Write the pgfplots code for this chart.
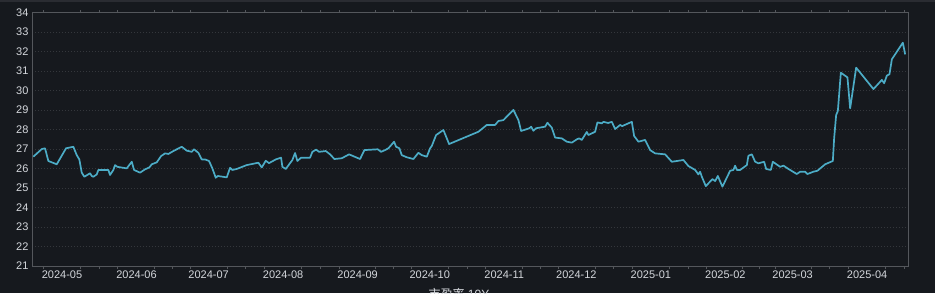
\documentclass[border=0pt]{standalone}
\usepackage{pgfplots}
\pgfplotsset{compat=1.18}
\usepackage{fontspec}
\setmainfont{Liberation Sans}
\newfontfamily\cjk{Noto Sans CJK SC}
\definecolor{bg}{RGB}{22,25,30}
\definecolor{topstrip}{RGB}{42,44,50}
\definecolor{framec}{RGB}{84,87,92}
\definecolor{gridc}{RGB}{52,55,60}
\definecolor{labc}{RGB}{212,215,220}
\definecolor{linec}{RGB}{76,172,198}
\begin{document}
\begin{tikzpicture}[x=1bp,y=1bp]
\fill[bg] (-32,-27) rectangle (903,266);
\fill[topstrip] (-32,264) rectangle (903,266);
\useasboundingbox (-32,-27) rectangle (903,266);
\begin{axis}[
  at={(0,0)}, anchor=south west,
  scale only axis, width=876bp, height=253.3bp,
  xmin=-12.5, xmax=352, ymin=21, ymax=34,
  ytick={21,22,...,34},
  xtick={0,31,61,92,123,153,184,214,245,276,304,335},
  xticklabels={2024-05,2024-06,2024-07,2024-08,2024-09,2024-10,2024-11,2024-12,2025-01,2025-02,2025-03,2025-04},
  minor xtick={-7.75,7.75,15.5,23.25,38.5,46,53.5,68.75,76.5,84.25,99.75,107.5,115.25,130.5,138,145.5,160.75,168.5,176.25,191.5,199,206.5,221.75,229.5,237.25,252.75,260.5,268.25,283,290,297,311.75,319.5,327.25,342.75,350.5},
  major tick length=0pt, minor tick length=2.5bp,
  tick align=outside,
  ymajorgrids,
  grid style={dash pattern=on 1bp off 2bp, gridc, line width=0.8bp},
  axis line style={framec, line width=0.9bp},
  every tick/.style={framec, line width=0.9bp},
  minor tick style={framec, line width=0.9bp},
  ticklabel style={font=\fontsize{11bp}{13bp}\selectfont, text=labc},
  xticklabel style={yshift=-1.3bp},
  /pgf/number format/assume math mode=true,
]
\addplot[linec, line width=1.7bp, line join=round, mark=none] coordinates {
(-11.94,26.61) (-8.45,27.00) (-7.07,27.04) (-5.70,26.39) (-2.21,26.22) (1.66,27.04) (4.70,27.12) (6.12,26.69) (7.20,26.47) (8.20,25.79) (9.28,25.58) (11.65,25.76) (12.36,25.62) (13.03,25.58) (14.44,25.70) (15.11,25.93) (19.27,25.93) (19.97,25.67) (21.35,25.93) (22.06,26.18) (23.01,26.09) (26.92,26.01) (29.01,26.35) (29.96,25.93) (32.46,25.79) (34.54,25.96) (36.33,26.06) (37.33,26.22) (39.41,26.32) (41.20,26.64) (42.86,26.78) (44.24,26.75) (46.32,26.90) (49.81,27.12) (51.89,26.92) (53.97,26.86) (54.93,26.99) (56.72,26.81) (58.14,26.47) (59.51,26.47) (61.17,26.39) (62.55,26.01) (63.96,25.53) (64.79,25.62) (68.54,25.55) (69.91,26.04) (70.87,25.93) (72.70,25.98) (76.86,26.18) (81.69,26.30) (83.10,26.06) (84.77,26.40) (86.14,26.28) (88.93,26.47) (91.14,26.56) (91.68,26.09) (93.09,25.98) (95.84,26.44) (96.96,26.80) (97.92,26.39) (99.46,26.56) (103.20,26.56) (104.16,26.86) (105.70,26.97) (106.95,26.86) (109.74,26.90) (111.53,26.73) (113.32,26.49) (116.40,26.53) (119.43,26.73) (124.01,26.49) (125.80,26.95) (131.38,26.99) (132.75,26.86) (134.42,26.95) (135.79,27.04) (138.16,27.38) (138.99,27.12) (140.37,27.04) (141.36,26.69) (143.45,26.58) (146.19,26.49) (148.27,26.81) (149.69,26.69) (151.77,26.61) (153.14,27.04) (153.85,27.16) (155.64,27.72) (158.68,27.98) (161.05,27.26) (173.24,27.89) (176.74,28.24) (180.19,28.24) (181.56,28.44) (183.65,28.49) (187.81,29.01) (189.89,28.49) (191.01,27.93) (194.47,28.07) (195.17,28.15) (196.13,27.94) (197.25,28.07) (201.00,28.15) (201.96,28.35) (203.79,28.10) (205.16,27.59) (207.95,27.55) (210.03,27.38) (212.11,27.33) (214.19,27.50) (215.15,27.55) (216.27,27.47) (218.35,27.88) (219.02,27.72) (221.81,27.89) (222.76,28.37) (224.59,28.32) (225.26,28.40) (227.22,28.34) (228.76,28.40) (230.13,28.03) (232.21,28.24) (233.04,28.18) (237.08,28.40) (238.04,27.67) (239.83,27.38) (242.61,27.47) (244.69,26.95) (246.77,26.78) (250.94,26.73) (253.72,26.35) (258.55,26.44) (260.63,26.13) (263.42,25.93) (264.79,25.70) (265.50,25.84) (266.21,25.58) (267.87,25.10) (270.62,25.46) (271.74,25.36) (272.87,25.62) (274.78,25.07) (277.99,25.89) (279.36,25.93) (280.07,26.15) (280.77,25.93) (282.15,25.93) (284.94,26.18) (285.60,26.66) (287.02,26.73) (288.39,26.35) (289.76,26.27) (292.13,26.35) (292.97,25.98) (294.92,25.93) (295.76,26.35) (298.79,26.09) (300.17,26.15) (302.25,25.98) (305.74,25.72) (307.12,25.84) (309.20,25.84) (310.15,25.72) (312.65,25.84) (314.32,25.89) (317.52,26.22) (320.72,26.39) (321.26,27.55) (322.10,28.75) (322.80,28.95) (324.05,30.92) (326.80,30.68) (327.92,29.09) (330.42,31.18) (337.62,30.08) (341.11,30.55) (342.07,30.38) (343.19,30.77) (344.28,30.84) (345.28,31.61) (349.85,32.46) (350.81,31.86)
};
\end{axis}
\begin{scope}
\clip (-32,-27) rectangle (903,266);
\node[anchor=base, text=labc, inner sep=0pt, font=\fontsize{12bp}{14bp}\selectfont] at (427,-32) {{\cjk 市盈率} 10Y};
\end{scope}
\end{tikzpicture}
\end{document}
